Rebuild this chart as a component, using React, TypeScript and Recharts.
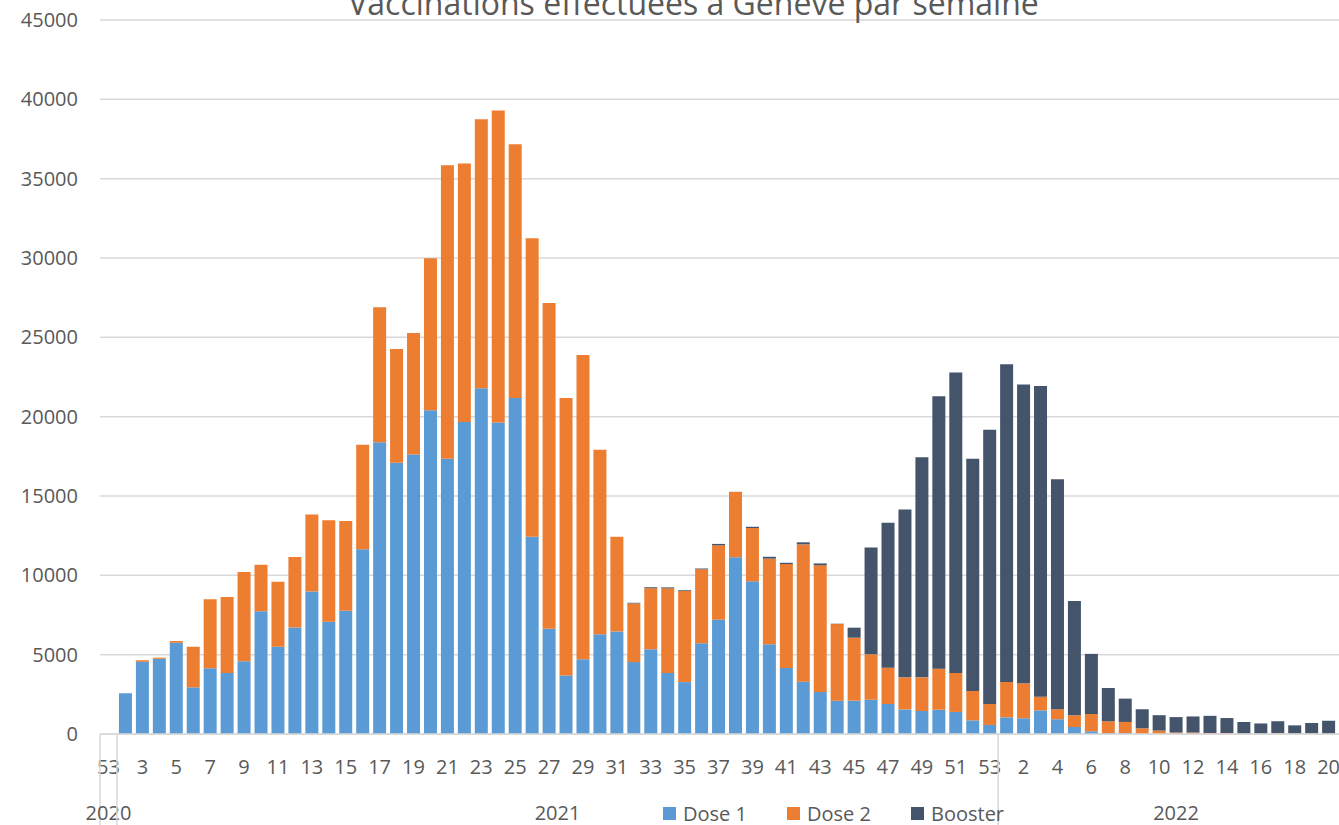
import React from 'react';
import { BarChart, Bar, XAxis, YAxis, CartesianGrid, Legend } from 'recharts';

// ---- data ----
const weeks: string[] = [
  '53',
  '2', '3', '4', '5', '6', '7', '8', '9', '10', '11', '12', '13', '14', '15', '16', '17', '18', '19', '20',
  '21', '22', '23', '24', '25', '26', '27', '28', '29', '30', '31', '32', '33', '34', '35', '36', '37', '38',
  '39', '40', '41', '42', '43', '44', '45', '46', '47', '48', '49', '50', '51', '52', '53',
  '1', '2', '3', '4', '5', '6', '7', '8', '9', '10', '11', '12', '13', '14', '15', '16', '17', '18', '19', '20', '21',
];
const years: string[] = [
  '2020',
  ...Array(52).fill('2021'),
  ...Array(21).fill('2022'),
];
const dose1: number[] = [
  0,
  2570, 4550, 4740, 5750, 2940, 4140, 3850, 4580, 7730, 5500, 6720, 8980, 7070, 7770, 11650, 18390, 17090, 17610, 20410,
  17350, 19660, 21790, 19630, 21170, 12430, 6630, 3690, 4710, 6280, 6460, 4530, 5340, 3850, 3270, 5720, 7200, 11140,
  9620, 5650, 4160, 3300, 2650, 2100, 2100, 2160, 1890, 1550, 1450, 1530, 1390, 860, 570,
  1050, 990, 1490, 930, 440, 170, 60, 60, 20, 15, 15, 15, 15, 15, 15, 15, 15, 15, 15, 15, 15,
];
const dose2: number[] = [
  0,
  0, 100, 70, 110, 2560, 4350, 4790, 5630, 2940, 4100, 4430, 4860, 6400, 5650, 6580, 8500, 7180, 7670, 9580,
  18500, 16290, 16960, 19660, 16000, 18810, 20530, 17490, 19180, 11640, 5970, 3700, 3850, 5330, 5740, 4660, 4690, 4120,
  3360, 5400, 6550, 8650, 7980, 4830, 3970, 2860, 2290, 2020, 2120, 2590, 2460, 1850, 1320,
  2230, 2210, 860, 630, 740, 1090, 740, 700, 340, 200, 80, 80, 50, 50, 20, 20, 50, 20, 40, 20, 20,
];
const booster: number[] = [
  0,
  0, 0, 0, 0, 0, 0, 0, 0, 0, 0, 0, 0, 0, 0, 0, 0, 0, 0, 0,
  0, 0, 0, 0, 0, 0, 0, 0, 0, 0, 0, 40, 60, 60, 50, 50, 90, 0,
  80, 120, 80, 130, 120, 20, 630, 6740, 9140, 10580, 13880, 17160, 18930, 14640, 17290,
  20020, 18820, 19580, 14490, 7210, 3790, 2100, 1470, 1200, 970, 970, 1010, 1080, 940, 720, 630, 740, 510, 640, 800, 570,
];
const yTicks: number[] = [0, 5000, 10000, 15000, 20000, 25000, 30000, 35000, 40000, 45000];
const seriesNames: string[] = ['Dose 1', 'Dose 2', 'Booster'];
const seriesColors: string[] = ['#5B9BD5', '#ED7D31', '#44546A'];

const data = weeks.map((w, i) => ({
  key: `${years[i]}-${w}-${i}`,
  d1: dose1[i],
  d2: dose2[i],
  b: booster[i],
}));

// ---- layout ----
const CHART_W = 1354;
const CHART_H = 825;
const Y_W = 100;
const X_H = 91;
const BAND = (CHART_W - Y_W) / weeks.length;
const TEXT = '#595959';
const GRID = '#D9D9D9';

const WeekTick = (props: any) => {
  const { x, y, index } = props;
  const i: number = index;
  const showLabel = i % 2 === 0;
  const groupStart = i === 0 || years[i] !== years[i - 1];
  let groupLen = 0;
  if (groupStart) {
    for (let k = i; k < years.length && years[k] === years[i]; k++) groupLen++;
  }
  const left = x - BAND / 2;
  return (
    <g>
      {showLabel && (
        <text x={x} y={y + 32} textAnchor="middle" dominantBaseline="central" fontSize={20} fill={TEXT}>
          {weeks[i]}
        </text>
      )}
      {groupStart && (
        <line x1={left} x2={left} y1={y} y2={y + X_H} stroke={GRID} strokeWidth={1.5} />
      )}
      {groupStart && (
        <text
          x={left + (groupLen * BAND) / 2}
          y={y + 78}
          textAnchor="middle"
          dominantBaseline="central"
          fontSize={20}
          fill={TEXT}
        >
          {years[i]}
        </text>
      )}
    </g>
  );
};

const LegendContent = () => (
  <div style={{ display: 'flex', fontFamily: 'Open Sans', fontSize: 20, color: TEXT }}>
    {seriesNames.map((name, k) => (
      <div key={name} style={{ width: 124, display: 'flex', alignItems: 'center', height: 26 }}>
        <div style={{ width: 13, height: 13, background: seriesColors[k], marginRight: 7 }} />
        <span>{name}</span>
      </div>
    ))}
  </div>
);

export default function App() {
  return (
    <div
      style={{
        position: 'absolute',
        left: 0,
        top: 0,
        width: 1339,
        height: 825,
        overflow: 'hidden',
        background: '#fff',
        fontFamily: 'Open Sans',
      }}
    >
      <BarChart
        width={CHART_W}
        height={CHART_H}
        data={data}
        margin={{ top: 20, right: 0, bottom: 0, left: 0 }}
        barCategoryGap={2}
      >
        <CartesianGrid vertical={false} stroke={GRID} strokeWidth={1.5} />
        <XAxis
          dataKey="key"
          interval={0}
          tickSize={0}
          tickMargin={0}
          height={X_H}
          axisLine={{ stroke: GRID, strokeWidth: 1.5 }}
          tickLine={false}
          tick={<WeekTick />}
        />
        <YAxis
          width={Y_W}
          domain={[0, 45000]}
          ticks={yTicks}
          interval={0}
          axisLine={false}
          tickLine={false}
          tickSize={6}
          tickMargin={16}
          tick={{ fill: TEXT, fontSize: 20, fontFamily: 'Open Sans' }}
        />
        <Bar dataKey="d1" name={seriesNames[0]} stackId="s" fill={seriesColors[0]} isAnimationActive={false} />
        <Bar dataKey="d2" name={seriesNames[1]} stackId="s" fill={seriesColors[1]} isAnimationActive={false} />
        <Bar dataKey="b" name={seriesNames[2]} stackId="s" fill={seriesColors[2]} isAnimationActive={false} />
        <Legend
          layout="horizontal"
          verticalAlign="middle"
          align="center"
          content={<LegendContent />}
          wrapperStyle={{ position: 'absolute', left: 663, top: 800, width: 400, height: 26 }}
        />
      </BarChart>
      <div
        style={{
          position: 'absolute',
          left: 0,
          top: -19,
          width: 1387,
          textAlign: 'center',
          fontSize: 32,
          lineHeight: 'normal',
          color: TEXT,
          whiteSpace: 'nowrap',
        }}
      >
        Vaccinations effectuées à Genève par semaine
      </div>
    </div>
  );
}
